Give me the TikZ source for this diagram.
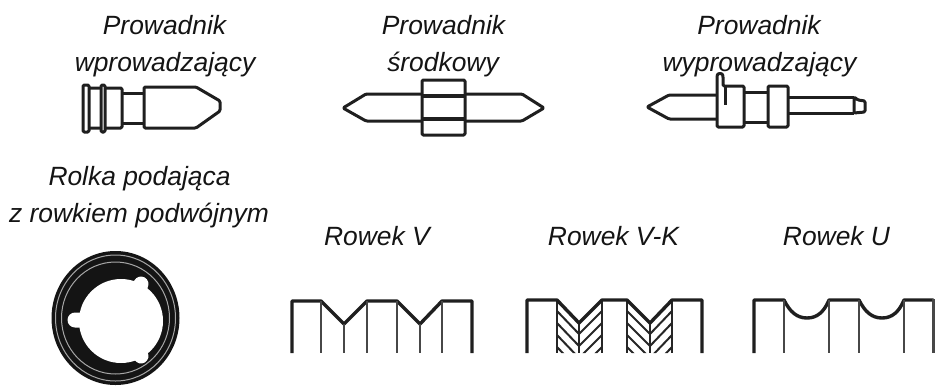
\documentclass[tikz,border=0pt]{standalone}
\usepackage{fontspec}
\setmainfont{Liberation Sans}
\begin{document}
\begin{tikzpicture}[x=1pt,y=-1pt,line join=round,
  lab/.style={font=\fontsize{26.4}{30}\selectfont\itshape,inner sep=0pt,anchor=base,text=black!92},
  part/.style={draw=black!88,line width=3pt,rounded corners=1.2pt},
  thick2/.style={draw=black!88,line width=3.4pt},
  thin2/.style={draw=black!72,line width=2.3pt},
  hatch/.style={draw=black!85,line width=2pt}]
\useasboundingbox (0,0) rectangle (936,386);
% labels
\node[lab] (a1) at (164.5,34) {Prowadnik};
\node[lab] (a2) at (165,71) {wprowadzający};
\node[lab] (b1) at (443.5,34) {Prowadnik};
\node[lab] (b2) at (443,71) {środkowy};
\node[lab] (c1) at (759,34) {Prowadnik};
\node[lab] (c2) at (759.5,71) {wyprowadzający};
\node[lab] (d1) at (139.5,185) {Rolka podająca};
\node[lab] (d2) at (139,222) {z rowkiem podwójnym};
\node[lab] (e) at (377,245) {Rowek V};
\node[lab] (f) at (613.5,245) {Rowek V-K};
\node[lab] (g) at (836.5,245) {Rowek U};
% guide 1
\draw[part] (88,88) rectangle (122,128);
\draw[part,fill=white] (83,85) rectangle (89,132);
\draw[part,fill=white] (101,85) rectangle (105,132);
\draw[part] (122,93) -- (144,93) (122,123) -- (144,123);
\draw[part] (144,87) -- (196,87) -- (220,101) -- (220,111) -- (196,128) -- (144,128) -- cycle;
% guide 2
\draw[part] (422,94) -- (366,94) -- (343,108) -- (366,121) -- (422,121);
\draw[part] (465,94) -- (522,94) -- (544,108) -- (522,121) -- (465,121);
\draw[part] (422,80) rectangle (465,135);
\draw[draw=black!88,line width=3.6pt] (422,96) -- (465,96) (422,119) -- (465,119);
% guide 3
\draw[part] (717,95) -- (669,95) -- (647,107) -- (669,119) -- (717,119);
\draw[part] (717,127) -- (717,76) .. controls (718,73) and (722,73) .. (723,76) -- (723,86) -- (744,86) -- (744,127) -- cycle;
\draw[draw=black!88,line width=3pt] (725,87) -- (725,105);
\draw[part] (744,92) -- (768,92) (744,122) -- (768,122);
\draw[part] (768,86) rectangle (788,127);
\draw[part] (788,97) -- (854,97) (788,113) -- (854,113);
\draw[part] (854,97) -- (854,113) -- (865,112) -- (865,101) -- (858,100) -- cycle;
% feed roller
\fill[black!92] (115.5,318) ellipse (64 and 67);
\draw[black!35,line width=1pt] (115.5,318) ellipse (60 and 63);
\draw[black!35,line width=1pt] (115.5,318) ellipse (54 and 56);
\fill[white] (121,321) circle (42);
\draw[white,line width=15pt,line cap=round] (121,321) -- (75,320) (121,321) -- (141,284) (121,321) -- (141,356);
% groove V
\draw[thick2,line cap=butt] (292,353) -- (292,301) -- (321,301) -- (344,324) -- (367,301) -- (397,301) -- (420,324) -- (442,301) -- (472,301) -- (472,353);
\draw[thin2] (321,301) -- (321,353) (344,324) -- (344,353) (367,301) -- (367,353) (397,301) -- (397,353) (420,324) -- (420,353) (442,301) -- (442,353);
% groove V-K
\begin{scope}
\clip (557,300) -- (579,323) -- (602,300) -- (602,353) -- (557,353) -- cycle;
\foreach \k in {11,23,35,47,59}{
  \draw[hatch] (557,300+\k) -- (579,323+\k) -- (602,300+\k);}
\end{scope}
\begin{scope}
\clip (627,300) -- (650,323) -- (672,300) -- (672,353) -- (627,353) -- cycle;
\foreach \k in {11,23,35,47,59}{
  \draw[hatch] (627,300+\k) -- (650,323+\k) -- (672,300+\k);}
\end{scope}
\draw[hatch] (557,300) -- (557,353) (579,323) -- (579,353) (602,300) -- (602,353) (627,300) -- (627,353) (650,323) -- (650,353) (672,300) -- (672,353);
\draw[thick2] (527,353) -- (527,300) -- (557,300) -- (579,323) -- (602,300) -- (627,300) -- (650,323) -- (672,300) -- (702,300) -- (702,353);
% groove U
\draw[thick2] (754,353) -- (754,300) -- (784,300) .. controls (790,312) and (797,318) .. (807,318) .. controls (817,318) and (824,312) .. (829,300) -- (859,300) .. controls (865,312) and (872,318) .. (882,318) .. controls (892,318) and (899,312) .. (904,300) -- (933.5,300);
\draw[thin2] (784,300) -- (784,353) (829,300) -- (829,353) (859,300) -- (859,353) (904,300) -- (904,353) (933.5,299) -- (933.5,353);
\end{tikzpicture}
\end{document}
